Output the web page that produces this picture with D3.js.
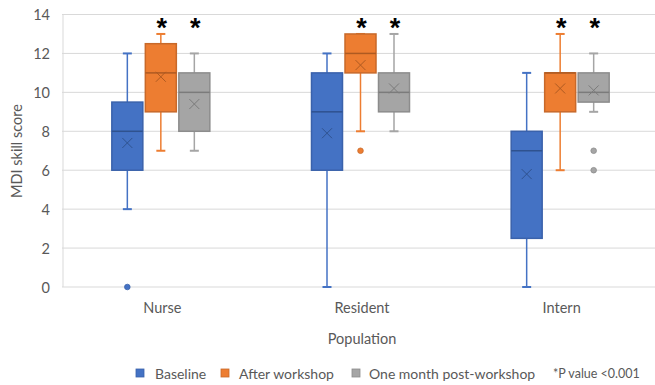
<!DOCTYPE html>
<html>
<head>
<meta charset="utf-8">
<script src="https://cdn.jsdelivr.net/npm/d3@7"></script>
<style>
  html, body { margin: 0; padding: 0; background: #fff; }
  svg { display: block; font-family: Lato, "Open Sans", sans-serif; }
</style>
</head>
<body>
<svg id="chart" width="655" height="385"></svg>
<script>
// Populations on the x axis and the three measurement points
const categories = ["Nurse", "Resident", "Intern"];
const seriesNames = ["Baseline", "After workshop", "One month post-workshop"];
const yTicks = [0, 2, 4, 6, 8, 10, 12, 14];

// Five-number summaries per series, one entry per population
const baselineStats = [
  { low: 4, q1: 6,   median: 8,  q3: 9.5,  high: 12, mean: 7.4,  outliers: [0] },
  { low: 0, q1: 6,   median: 9,  q3: 11,   high: 12, mean: 7.9,  outliers: [] },
  { low: 0, q1: 2.5, median: 7,  q3: 8,    high: 11, mean: 5.8,  outliers: [] }
];
const afterStats = [
  { low: 7, q1: 9,  median: 11, q3: 12.5, high: 13, mean: 10.8, outliers: [] },
  { low: 8, q1: 11, median: 12, q3: 13,   high: 13, mean: 11.4, outliers: [7] },
  { low: 6, q1: 9,  median: 11, q3: 11,   high: 13, mean: 10.2, outliers: [] }
];
const monthStats = [
  { low: 7, q1: 8,   median: 10, q3: 11, high: 12, mean: 9.4,  outliers: [] },
  { low: 8, q1: 9,   median: 10, q3: 11, high: 13, mean: 10.2, outliers: [] },
  { low: 9, q1: 9.5, median: 10, q3: 11, high: 12, mean: 10.1, outliers: [7, 6] }
];
// Series flagged as significant (asterisk above the box)
const significant = [false, true, true];
const pValueNote = "*P value <0.001";

const fills   = ["#4472C4", "#ED7D31", "#A5A5A5"];
const borders = ["#3A62AB", "#C8692A", "#8C8C8C"];
const inner   = ["#2F528F", "#AE5A21", "#7B7B7B"];

const svg = d3.select("#chart");
const plotTop = 14.5, plotBottom = 287, plotLeft = 63;
const textColor = "#595959", fs = 14.5;

const y = d3.scaleLinear().domain([0, 14]).range([plotBottom, plotTop]);
const x = d3.scaleBand().domain(categories).range([61, 660]);
const xs = d3.scalePoint().domain(seriesNames).range([-33.5, 33.5]);
const boxW = 31, capW = 9, meanR = 5;

// Horizontal gridlines
svg.append("g").selectAll("line").data(yTicks).join("line")
  .attr("x1", plotLeft - 1).attr("x2", 660)
  .attr("y1", d => y(d)).attr("y2", d => y(d))
  .attr("stroke", "#d9d9d9").attr("stroke-width", 1);

// Vertical axis line
svg.append("line")
  .attr("x1", plotLeft).attr("x2", plotLeft)
  .attr("y1", y(14)).attr("y2", y(0))
  .attr("stroke", "#d9d9d9");

// Y tick labels
svg.append("g").selectAll("text").data(yTicks).join("text")
  .attr("x", 50).attr("y", d => y(d))
  .attr("text-anchor", "end").attr("dominant-baseline", "central")
  .attr("font-size", fs).attr("fill", textColor)
  .text(d => d);

// Y axis title
svg.append("text")
  .attr("transform", "translate(22,151) rotate(-90)")
  .attr("text-anchor", "middle")
  .attr("font-size", fs).attr("fill", textColor)
  .text("MDI skill score");

// Category labels
svg.append("g").selectAll("text").data(categories).join("text")
  .attr("x", d => x(d) + x.bandwidth() / 2 + 1.5).attr("y", 313)
  .attr("text-anchor", "middle")
  .attr("font-size", fs).attr("fill", textColor)
  .text(d => d);

// X axis title
svg.append("text")
  .attr("x", 362).attr("y", 344)
  .attr("text-anchor", "middle")
  .attr("font-size", fs).attr("fill", textColor)
  .text("Population");

// Box plots
const allStats = [baselineStats, afterStats, monthStats];
allStats.forEach((stats, si) => {
  const g = svg.append("g");
  stats.forEach((s, ci) => {
    const cx = x(categories[ci]) + x.bandwidth() / 2 + xs(seriesNames[si]);
    // whiskers
    g.append("line").attr("x1", cx).attr("x2", cx)
      .attr("y1", y(s.high)).attr("y2", y(s.q3))
      .attr("stroke", fills[si]).attr("stroke-width", 1.5);
    g.append("line").attr("x1", cx).attr("x2", cx)
      .attr("y1", y(s.q1)).attr("y2", y(s.low))
      .attr("stroke", fills[si]).attr("stroke-width", 1.5);
    [s.high, s.low].forEach(v => {
      g.append("line")
        .attr("x1", cx - capW / 2).attr("x2", cx + capW / 2)
        .attr("y1", y(v)).attr("y2", y(v))
        .attr("stroke", fills[si]).attr("stroke-width", 2);
    });
    // box
    g.append("rect")
      .attr("x", cx - boxW / 2).attr("y", y(s.q3))
      .attr("width", boxW).attr("height", y(s.q1) - y(s.q3))
      .attr("fill", fills[si]).attr("stroke", borders[si]).attr("stroke-width", 1.5);
    // median
    g.append("line")
      .attr("x1", cx - boxW / 2).attr("x2", cx + boxW / 2)
      .attr("y1", y(s.median)).attr("y2", y(s.median))
      .attr("stroke", inner[si]).attr("stroke-width", 1.5);
    // mean marker
    const my = y(s.mean);
    g.append("path")
      .attr("d", `M${cx - meanR},${my - meanR}L${cx + meanR},${my + meanR}M${cx - meanR},${my + meanR}L${cx + meanR},${my - meanR}`)
      .attr("stroke", inner[si]).attr("stroke-width", 1).attr("fill", "none");
    // outliers
    s.outliers.forEach(v => {
      g.append("circle").attr("cx", cx).attr("cy", y(v)).attr("r", 2.8)
        .attr("fill", fills[si]).attr("stroke", borders[si]).attr("stroke-width", 0.8);
    });
    // significance marker
    if (significant[si]) {
      g.append("text")
        .attr("x", cx + 1).attr("y", 37)
        .attr("text-anchor", "middle")
        .attr("font-family", "Liberation Sans, Arial, sans-serif")
        .attr("font-weight", "bold").attr("font-size", 27)
        .attr("fill", "#000")
        .text("*");
    }
  });
});

// Legend
const legendItems = [
  { label: seriesNames[0], sx: 136, tx: 155 },
  { label: seriesNames[1], sx: 221, tx: 239 },
  { label: seriesNames[2], sx: 352, tx: 369 }
];
const lg = svg.append("g");
legendItems.forEach((d, i) => {
  lg.append("rect").attr("x", d.sx).attr("y", 369).attr("width", 8).attr("height", 8)
    .attr("fill", fills[i]).attr("stroke", borders[i]).attr("stroke-width", 0.8);
  lg.append("text").attr("x", d.tx).attr("y", 373).attr("dominant-baseline", "central")
    .attr("font-size", 14).attr("fill", textColor).text(d.label);
});
lg.append("text").attr("x", 553).attr("y", 373).attr("dominant-baseline", "central")
  .attr("font-size", 12.5).attr("fill", textColor).text(pValueNote);
</script>
</body>
</html>
